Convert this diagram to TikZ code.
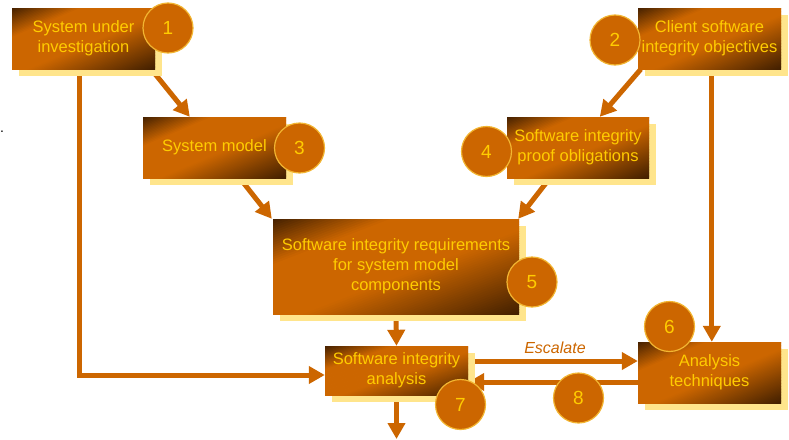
\documentclass[tikz,border=0pt]{standalone}
\usepackage{fontspec}
\setmainfont{Liberation Sans}
\usetikzlibrary{arrows.meta,shadows,calc,backgrounds}
\definecolor{bdark}{HTML}{432000}
\definecolor{borange}{HTML}{CC6600}
\definecolor{tyellow}{HTML}{FFCC00}
\definecolor{shyellow}{HTML}{FFE58C}
\definecolor{ring}{HTML}{F2B531}
\tikzset{
  box/.style 2 args={rectangle, text=tyellow, align=center,
    minimum width=#1pt, minimum height=#2pt,
    font=\fontsize{16.5}{20}\selectfont, inner sep=2pt,
    general shadow={fill=shyellow, shadow xshift=7pt, shadow yshift=-7pt},
    path picture={
      \coordinate (gA) at (path picture bounding box.north west);
      \coordinate (gNE) at (path picture bounding box.north east);
      \coordinate (gSW) at (path picture bounding box.south west);
      \foreach \gk in {0,...,79} {
        \pgfmathsetmacro\gsa{2*\gk/80}
        \pgfmathsetmacro\gsb{2*(\gk+1.5)/80}
        \pgfmathsetmacro\gt{(\gk+0.5)/80}
        \pgfmathsetmacro\gp{\gt<0.24 ? 100*\gt/0.24 : (\gt<0.56 ? 100 : 100*(1-\gt)/0.44)}
        \fill[borange!\gp!bdark] ($(gA)!\gsa!(gNE)$) -- ($(gA)!\gsb!(gNE)$) -- ($(gA)!\gsb!(gSW)$) -- ($(gA)!\gsa!(gSW)$) -- cycle;
      }}},
  num/.style={circle, fill=borange, draw=ring, line width=1.2pt, minimum size=50pt,
    inner sep=0pt, text=tyellow, font=\fontsize{19}{19}\selectfont},
  conn/.style={draw=borange, line width=5pt, -{Triangle[length=16pt,width=17pt]}},
}
\begin{document}
\begin{tikzpicture}[x=1pt,y=-1pt]
\useasboundingbox (0,0) rectangle (789,439);
% boxes
\node[box={143}{61}] (b1) at (83.5,38.5) {System under\\investigation};
\node[box={143}{61}] (b2) at (709.5,38.5) {Client software\\integrity objectives};
\node[box={143}{61}] (b3) at (214.5,147.5) {System model};
\node[box={142}{61}] (b4) at (578,147.5) {Software integrity\\proof obligations};
\node[box={246}{95}] (b5) at (396,266.5) {Software integrity requirements\\for system model\\components};
\node[box={143}{49}] (b6) at (396.5,370.5) {Software integrity\\analysis};
\node[box={143}{61}] (b7) at (709.5,372.5) {Analysis\\techniques};
% connectors
\coordinate (u) at ($(b6.east)+(0,-9.5)$);
\coordinate (l) at ($(b7.west)+(0,9.5)$);
\coordinate (out) at (396.5,439);
\begin{scope}[on background layer]
\draw[conn] ($(b1.south east)+(-4,0)$) -- ($(b3.north west)+(47,0)$);
\draw[conn] ($(b2.south west)+(3,0)$) -- ($(b4.north west)+(93,0)$);
\draw[conn] ($(b3.south west)+(97,0)$) -- ($(b5.north west)+(-1,0)$);
\draw[conn] ($(b4.south west)+(43,0)$) -- ($(b5.north east)+(-1,0)$);
\draw[conn] (b5.south) -- (b6.north);
\draw[conn] ($(b1.south west)+(68,0)$) |- ($(b6.west)+(0,4.5)$);
\draw[conn] ($(b2.south west)+(74,0)$) -- ($(b7.north west)+(74,0)$);
\draw[conn] (u) -- (u -| b7.west);
\draw[conn] (l) -- (l -| b6.east);
\draw[conn] (b6.south) -- (out);
\end{scope}
\node[text=borange, font=\fontsize{16}{16}\selectfont\itshape] (esc) at (555,348) {Escalate};
% numbers
\node[num] (n1) at (168,28) {1};
\node[num] (n2) at (615,40) {2};
\node[num] (n3) at (299.5,148) {3};
\node[num] (n4) at (486.5,151.5) {4};
\node[num] (n5) at (532,282) {5};
\node[num] (n6) at (669.5,326.5) {6};
\node[num] (n7) at (460.5,404.5) {7};
\node[num] (n8) at (578.5,398) {8};
\node[font=\fontsize{14}{14}\selectfont, inner sep=0pt, anchor=base west] (dot) at (0,132) {.};
\end{tikzpicture}
\end{document}
